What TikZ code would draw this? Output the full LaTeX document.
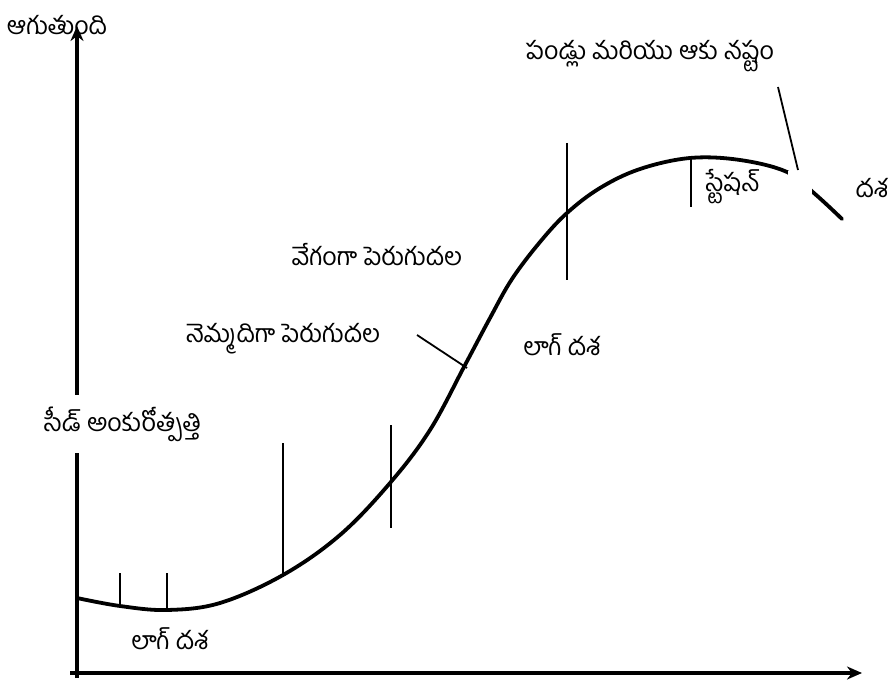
\documentclass[tikz,border=0pt]{standalone}
\usepackage{fontspec}
\newfontfamily\te[Script=Telugu]{Hind Guntur}
\usetikzlibrary{arrows.meta}
\begin{document}
\begin{tikzpicture}[x=1pt,y=-1pt,
  axisline/.style={line width=4pt,-{Stealth[length=15pt,width=13pt]}},
  growth/.style={line width=3.8pt,line cap=round},
  tickline/.style={line width=1.8pt},
  pointer/.style={line width=1.8pt},
  lbl/.style={font=\te\fontsize{25}{28}\selectfont,inner sep=1pt}]
\useasboundingbox (0,0) rectangle (891,684);
% axes
\coordinate (o) at (77,678);
\coordinate (ytip) at (77,26);
\coordinate (xstart) at (70,673);
\coordinate (xtip) at (862,673);
\draw[axisline] (o) -- (ytip);
\draw[axisline] (xstart) -- (xtip);
% growth curve
\draw[growth] plot[smooth,tension=0.6] coordinates {
 (77,598) (120,606) (167,610) (220,603) (283,575) (340,535) (390,483)
 (430,430) (465,365) (490,318) (512,279) (540,242) (567,213) (600,188)
 (640,169) (690,158) (740,160) (787,172) (815,194) (842,219)};
% white patch over the curve
\fill[white] (788,171) rectangle (812,199);
% ticks
\draw[tickline] (120,573) -- (120,606);
\draw[tickline] (167,573) -- (167,611);
\draw[tickline] (283,443) -- (283,576);
\draw[tickline] (391,425) -- (391,528);
\draw[tickline] (567,143) -- (567,280);
\draw[tickline] (691,158) -- (691,207);
% labels
\node[lbl] (stop) at (57,25) {ఆగుతుంది};
\node[lbl,fill=white,inner ysep=12pt] (seed) at (123,424) {సీడ్ అంకురోత్పత్తి};
\node[lbl] (lag1) at (170,639) {లాగ్ దశ};
\node[lbl] (slow) at (283,339) {నెమ్మదిగా పెరుగుదల};
\node[lbl] (fast) at (377,255) {వేగంగా పెరుగుదల};
\node[lbl] (lag2) at (562,345) {లాగ్ దశ};
\node[lbl] (loss) at (650,56) {పండ్లు మరియు ఆకు నష్టం};
\node[lbl] (stat) at (733,187) {స్టేషన్};
\node[lbl] (dasha) at (872,188) {దశ};
% pointers
\coordinate (slowend) at (467,368);
\coordinate (slowstart) at (417,335);
\draw[pointer] (slowstart) -- (slowend);
\coordinate (lossstart) at (778,87);
\coordinate (lossend) at (798,170);
\draw[pointer] (lossstart) -- (lossend);
\end{tikzpicture}
\end{document}
